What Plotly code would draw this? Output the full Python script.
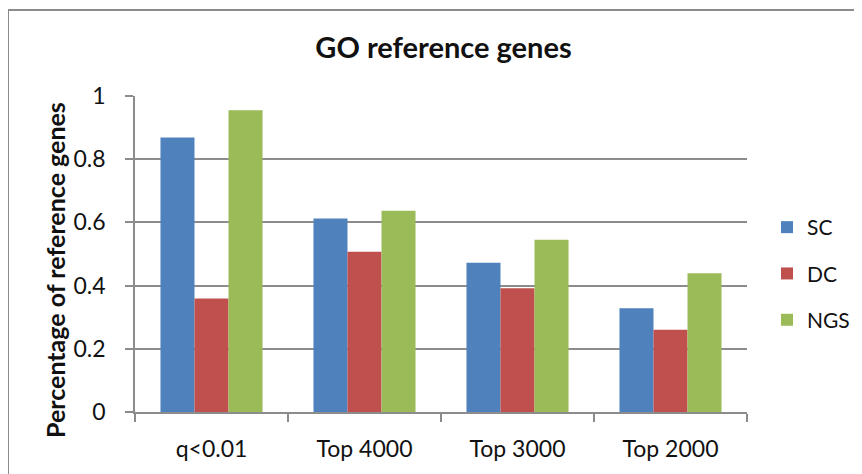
import plotly.graph_objects as go

categories = ["q<0.01", "Top 4000", "Top 3000", "Top 2000"]
sc_values = [0.869, 0.612, 0.472, 0.328]
dc_values = [0.359, 0.507, 0.392, 0.260]
ngs_values = [0.955, 0.637, 0.545, 0.439]
series_names = ["SC", "DC", "NGS"]
series_colors = ["#4F81BD", "#C0504D", "#9BBB59"]
y_ticks = [0, 0.2, 0.4, 0.6, 0.8, 1]

O = 8  # page body offset
W, H = 862 - O, 474 - O
L, R, T, B = 135 - O, 747 - O, 96 - O, 412 - O  # plot area in figure pixels


def px_x(x):
    return (x - O - L) / (R - L)


def px_y(y):
    return (B - (y - O)) / (B - T)


fig = go.Figure()
for name, vals, col in zip(series_names, [sc_values, dc_values, ngs_values], series_colors):
    fig.add_trace(go.Bar(x=categories, y=vals, name=name, marker_color=col,
                         marker_line_width=0, legendgroup=name))

grid_col = "#8C8C8C"
font_fam = "Lato, 'Open Sans', sans-serif"

fig.update_layout(
    width=W, height=H,
    margin=dict(l=L, r=W - R, t=T, b=H - B, pad=0, autoexpand=False),
    paper_bgcolor="white", plot_bgcolor="white",
    barmode="group", bargap=0.333, bargroupgap=0,
    font=dict(family=font_fam, color="#1a1a1a"),
    title=dict(text="<b>GO reference genes</b>", font=dict(size=29, family=font_fam, color="#111"),
               x=px_x(443.5), xref="paper", xanchor="center",
               y=1 - (47.5 - O) / H, yref="container", yanchor="middle"),
    legend=dict(x=px_x(767), xanchor="left", y=px_y(273.5), yanchor="middle",
                font=dict(size=21, family=font_fam, color="#111"),
                tracegroupgap=16, bgcolor="rgba(0,0,0,0)"),
    showlegend=True,
)

fig.update_xaxes(
    type="category", showline=True, linecolor=grid_col, linewidth=1.5,
    ticks="outside", tickson="boundaries", ticklen=8, tickcolor=grid_col, tickwidth=1.5,
    tickfont=dict(size=23, family=font_fam, color="#111"), ticklabelstandoff=16,
    showgrid=False, automargin=False,
)
fig.update_yaxes(
    range=[0, 1], tickvals=y_ticks, showline=True, linecolor=grid_col, linewidth=1.5,
    ticks="outside", ticklen=8, tickcolor=grid_col, tickwidth=1.5,
    tickfont=dict(size=23, family=font_fam, color="#111"), ticklabelstandoff=15,
    showgrid=True, gridcolor=grid_col, gridwidth=1.5, zeroline=False, automargin=False,
)

fig.add_annotation(text="<b>Percentage of reference genes</b>", textangle=-90,
                   xref="paper", yref="paper", x=px_x(55), y=px_y(270),
                   xanchor="center", yanchor="middle", showarrow=False,
                   font=dict(size=25, family=font_fam, color="#111"))

fig.add_shape(type="rect", xref="paper", yref="paper", layer="below",
              x0=px_x(8), x1=px_x(900), y0=px_y(10), y1=px_y(520),
              line=dict(color="#8C8C8C", width=2), fillcolor="rgba(0,0,0,0)")

fig.write_html("out.html")
